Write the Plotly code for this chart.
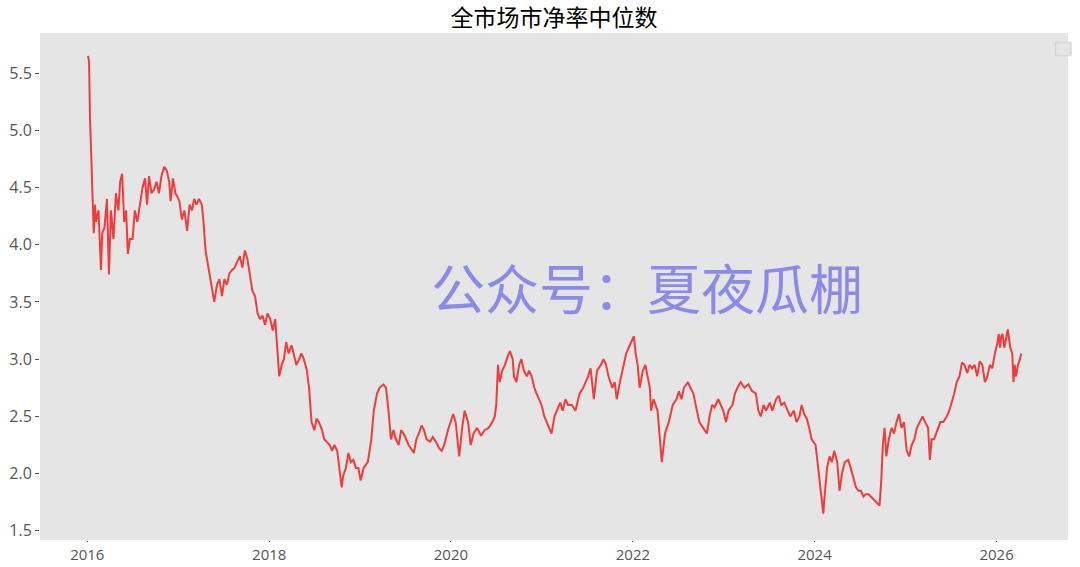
import plotly.graph_objects as go

raw = """
2016-01-04 5.65|2016-01-08 5.6|2016-01-12 5.1|2016-01-15 4.9|2016-01-20 4.6|2016-01-27 4.1|2016-02-01 4.35|2016-02-05 4.2|2016-02-15 4.3|2016-02-25 3.78|2016-03-01 4.1|2016-03-10 4.15|2016-03-20 4.4|2016-03-28 3.74|2016-04-05 4.3|2016-04-15 4.05|2016-04-25 4.45|2016-05-05 4.3|2016-05-12 4.55|2016-05-20 4.62|2016-05-28 4.2|2016-06-05 4.3|2016-06-12 3.92|2016-06-20 4.05|2016-07-01 4.05|2016-07-10 4.3|2016-07-20 4.2|2016-08-01 4.35|2016-08-10 4.5|2016-08-20 4.58|2016-08-28 4.35|2016-09-05 4.6|2016-09-15 4.45|2016-09-25 4.48|2016-10-05 4.55|2016-10-15 4.45|2016-10-25 4.6|2016-11-05 4.68|2016-11-15 4.65|2016-11-25 4.55|2016-12-01 4.38|2016-12-10 4.58|2016-12-20 4.45|2016-12-28 4.42
2017-01-05 4.38|2017-01-15 4.22|2017-01-25 4.3|2017-02-05 4.12|2017-02-15 4.35|2017-02-25 4.3|2017-03-05 4.4|2017-03-15 4.35|2017-03-25 4.4|2017-04-05 4.35|2017-04-12 4.2|2017-04-20 3.95|2017-04-28 3.85|2017-05-08 3.7|2017-05-15 3.6|2017-05-25 3.5|2017-06-05 3.65|2017-06-15 3.7|2017-06-25 3.55|2017-07-05 3.7|2017-07-15 3.65|2017-07-25 3.75|2017-08-05 3.78|2017-08-15 3.8|2017-08-25 3.85|2017-09-05 3.9|2017-09-15 3.8|2017-09-25 3.95|2017-10-05 3.88|2017-10-15 3.75|2017-10-25 3.6|2017-11-05 3.55|2017-11-15 3.4|2017-11-25 3.35|2017-12-05 3.38|2017-12-15 3.3|2017-12-25 3.4
2018-01-05 3.35|2018-01-15 3.25|2018-01-25 3.35|2018-02-05 3.05|2018-02-10 2.85|2018-02-20 2.95|2018-03-01 3.0|2018-03-10 3.15|2018-03-20 3.05|2018-04-01 3.12|2018-04-10 3.05|2018-04-20 2.95|2018-05-01 3.0|2018-05-10 3.05|2018-05-20 3.0|2018-06-01 2.9|2018-06-10 2.75|2018-06-20 2.45|2018-07-01 2.38|2018-07-10 2.48|2018-07-20 2.45|2018-08-01 2.38|2018-08-10 2.3|2018-08-20 2.28|2018-09-01 2.25|2018-09-10 2.2|2018-09-20 2.25|2018-10-01 2.2|2018-10-12 2.0|2018-10-19 1.88|2018-10-25 1.98|2018-11-05 2.05|2018-11-15 2.18|2018-11-25 2.1|2018-12-05 2.12|2018-12-15 2.05|2018-12-25 2.05
2019-01-03 1.94|2019-01-15 2.05|2019-02-01 2.1|2019-02-15 2.3|2019-02-25 2.55|2019-03-10 2.7|2019-03-20 2.75|2019-04-05 2.78|2019-04-15 2.75|2019-04-25 2.55|2019-05-05 2.3|2019-05-15 2.38|2019-05-25 2.3|2019-06-05 2.25|2019-06-15 2.38|2019-06-25 2.35|2019-07-05 2.3|2019-07-15 2.25|2019-08-05 2.18|2019-08-15 2.3|2019-08-25 2.35|2019-09-05 2.42|2019-09-15 2.38|2019-09-25 2.3|2019-10-10 2.28|2019-10-20 2.32|2019-11-01 2.28|2019-11-15 2.22|2019-11-25 2.2|2019-12-05 2.25|2019-12-20 2.38|2019-12-30 2.45
2020-01-10 2.52|2020-01-20 2.45|2020-02-03 2.15|2020-02-15 2.4|2020-02-25 2.55|2020-03-10 2.45|2020-03-20 2.25|2020-04-01 2.35|2020-04-15 2.4|2020-05-01 2.33|2020-05-15 2.38|2020-06-01 2.4|2020-06-15 2.45|2020-06-25 2.5|2020-07-01 2.6|2020-07-08 2.95|2020-07-15 2.8|2020-07-25 2.9|2020-08-05 2.95|2020-08-15 3.02|2020-08-25 3.07|2020-09-05 3.0|2020-09-10 2.85|2020-09-20 2.8|2020-10-01 2.95|2020-10-10 3.0|2020-10-20 2.9|2020-11-01 2.85|2020-11-10 2.9|2020-11-20 2.85|2020-12-01 2.75|2020-12-10 2.7|2020-12-20 2.65|2020-12-30 2.6
2021-01-10 2.5|2021-01-20 2.45|2021-02-01 2.4|2021-02-08 2.35|2021-02-20 2.5|2021-03-01 2.55|2021-03-15 2.62|2021-03-25 2.55|2021-04-05 2.65|2021-04-15 2.6|2021-05-01 2.6|2021-05-15 2.55|2021-06-01 2.7|2021-06-15 2.75|2021-06-25 2.8|2021-07-05 2.85|2021-07-15 2.92|2021-07-28 2.65|2021-08-10 2.9|2021-08-25 2.95|2021-09-05 3.0|2021-09-15 2.95|2021-09-25 2.85|2021-10-10 2.75|2021-10-20 2.8|2021-10-28 2.65|2021-11-10 2.8|2021-11-25 2.95|2021-12-05 3.05|2021-12-15 3.1|2021-12-25 3.15
2022-01-05 3.2|2022-01-12 3.05|2022-01-20 2.95|2022-01-28 2.75|2022-02-10 2.9|2022-02-20 2.95|2022-03-01 2.85|2022-03-10 2.75|2022-03-15 2.55|2022-03-25 2.65|2022-04-10 2.55|2022-04-20 2.3|2022-04-27 2.1|2022-05-10 2.35|2022-05-25 2.45|2022-06-10 2.6|2022-06-25 2.65|2022-07-05 2.72|2022-07-15 2.65|2022-07-25 2.75|2022-08-10 2.8|2022-08-20 2.75|2022-09-01 2.7|2022-09-15 2.55|2022-09-25 2.45|2022-10-10 2.4|2022-10-25 2.35|2022-11-05 2.5|2022-11-15 2.6|2022-11-25 2.58|2022-12-10 2.65|2022-12-20 2.6|2022-12-30 2.55
2023-01-10 2.45|2023-01-20 2.55|2023-02-05 2.6|2023-02-15 2.7|2023-02-25 2.75|2023-03-10 2.8|2023-03-25 2.75|2023-04-10 2.78|2023-04-25 2.72|2023-05-10 2.7|2023-05-20 2.55|2023-05-30 2.5|2023-06-10 2.6|2023-06-20 2.55|2023-07-05 2.62|2023-07-15 2.55|2023-07-30 2.65|2023-08-10 2.68|2023-08-20 2.6|2023-09-01 2.62|2023-09-15 2.55|2023-09-25 2.5|2023-10-10 2.55|2023-10-20 2.45|2023-11-01 2.5|2023-11-10 2.6|2023-11-20 2.52|2023-12-01 2.48|2023-12-10 2.4|2023-12-20 2.3
2024-01-05 2.25|2024-01-15 2.05|2024-01-25 1.85|2024-02-05 1.65|2024-02-08 1.75|2024-02-20 2.05|2024-03-01 2.15|2024-03-10 2.1|2024-03-20 2.2|2024-04-01 2.1|2024-04-10 1.85|2024-04-20 2.0|2024-05-01 2.1|2024-05-15 2.12|2024-05-25 2.05|2024-06-05 1.95|2024-06-15 1.88|2024-06-25 1.85|2024-07-05 1.85|2024-07-15 1.8|2024-07-25 1.82|2024-08-05 1.82|2024-08-15 1.8|2024-08-25 1.78|2024-09-05 1.75|2024-09-18 1.72|2024-09-25 1.95|2024-10-01 2.25|2024-10-08 2.4|2024-10-15 2.15|2024-10-25 2.3|2024-11-05 2.4|2024-11-15 2.35|2024-11-25 2.45|2024-12-05 2.52|2024-12-15 2.4|2024-12-25 2.45
2025-01-05 2.2|2025-01-15 2.15|2025-01-25 2.25|2025-02-05 2.3|2025-02-15 2.4|2025-02-25 2.45|2025-03-10 2.5|2025-03-20 2.45|2025-04-01 2.4|2025-04-08 2.12|2025-04-15 2.3|2025-04-25 2.3|2025-05-10 2.4|2025-05-20 2.45|2025-06-01 2.45|2025-06-15 2.5|2025-06-25 2.55|2025-07-05 2.62|2025-07-15 2.7|2025-07-25 2.8|2025-08-05 2.85|2025-08-15 2.97|2025-08-25 2.95|2025-09-05 2.88|2025-09-15 2.95|2025-09-25 2.92|2025-10-05 2.95|2025-10-15 2.85|2025-10-25 2.98|2025-11-05 2.95|2025-11-15 2.8|2025-11-25 2.85|2025-12-05 2.95|2025-12-15 2.92|2025-12-25 3.05
2026-01-05 3.15|2026-01-10 3.22|2026-01-15 3.1|2026-01-20 3.2|2026-01-25 3.22|2026-02-01 3.1|2026-02-10 3.2|2026-02-15 3.26|2026-02-25 3.1|2026-03-05 3.05|2026-03-10 2.8|2026-03-15 2.95|2026-03-20 2.85|2026-03-28 2.95|2026-04-05 3.0|2026-04-10 3.05
"""
dates = []
values = []
for item in raw.replace("\n", "|").split("|"):
    item = item.strip()
    if item:
        d, v = item.split()
        dates.append(d)
        values.append(float(v))

title = "全市场市净率中位数"
watermark = "公众号：夏夜瓜棚"

fig = go.Figure()
fig.add_trace(go.Scatter(x=dates, y=values, mode="lines",
                         line=dict(color="#f23c3c", width=2), showlegend=False))
fig.update_layout(
    width=1080, height=567,
    paper_bgcolor="white", plot_bgcolor="#e5e5e5",
    margin=dict(l=40, r=12, t=33, b=27, autoexpand=False),
    title=dict(text=title, x=0.5, xanchor="center", xref="paper",
               yref="container", y=0.968, yanchor="middle",
               font=dict(family="Noto Sans CJK SC", size=23, color="black")),
    font=dict(family="Open Sans", size=16, color="#555"),
    xaxis=dict(range=["2015-06-25", "2026-10-15"], showgrid=False, zeroline=False,
               automargin=False,
               tickvals=["2016-01-01", "2018-01-01", "2020-01-01", "2022-01-01", "2024-01-01", "2026-01-01"],
               ticktext=["2016", "2018", "2020", "2022", "2024", "2026"],
               ticks="outside", ticklen=1, tickcolor="#555", tickfont=dict(size=15)),
    yaxis=dict(range=[1.42, 5.85], showgrid=False, zeroline=False,
               automargin=False,
               tickvals=[1.5, 2.0, 2.5, 3.0, 3.5, 4.0, 4.5, 5.0, 5.5],
               ticktext=["1.5", "2.0", "2.5", "3.0", "3.5", "4.0", "4.5", "5.0", "5.5"],
               ticks="outside", ticklen=4, tickcolor="#555"),
    annotations=[dict(text=watermark, xref="paper", yref="paper", x=0.59, y=0.5,
                      showarrow=False,
                      font=dict(family="Noto Sans CJK SC", size=54, color="rgba(100,100,240,0.7)"))],
    shapes=[dict(type="rect", xref="paper", yref="paper", x0=0.988, x1=1.003, y0=0.955, y1=0.982,
                 line=dict(color="#d0d0d0", width=1), fillcolor="#e5e5e5")],
)
fig.write_html("out.html", config={"displayModeBar": False},
               post_script="document.body.style.margin='0';document.body.style.overflow='hidden';")
